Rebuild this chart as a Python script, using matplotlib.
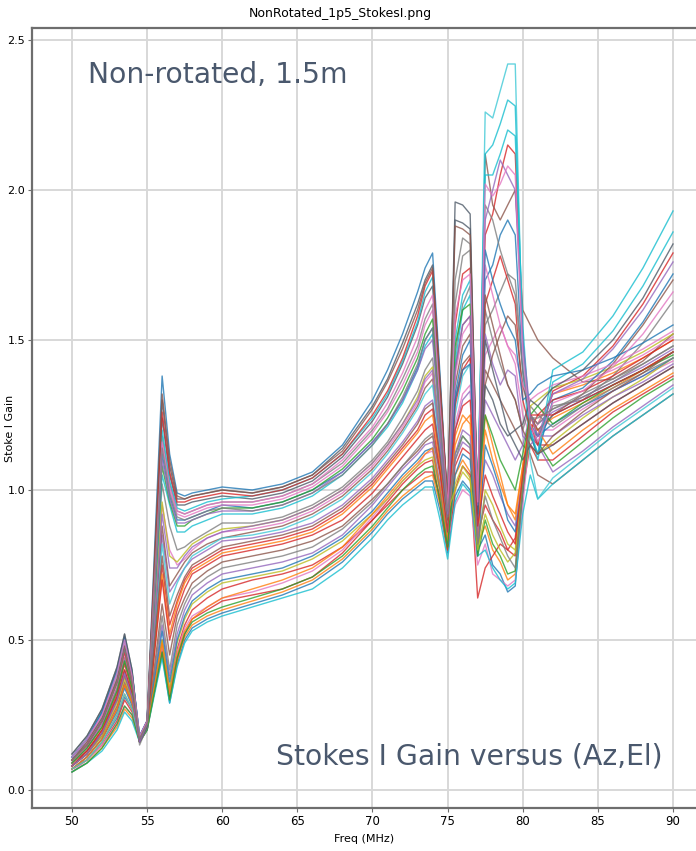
import matplotlib
matplotlib.use("Agg")
import matplotlib.pyplot as plt

# frequency grid (MHz)
freq = [50, 51, 52, 53, 53.5, 54, 54.5, 55,
        56, 56.5, 57, 57.5, 58, 59, 60,
        62, 64, 66, 68, 70, 71, 72, 73,
        73.5, 74, 74.5, 75,
        75.5, 76, 76.5, 77,
        77.5, 78, 78.5, 79, 79.5,
        80, 80.5, 81,
        82, 84, 86, 88, 90]

# Stokes I gain, one row per (Az,El) pointing -- low early response
low_group = [
    [0.07, 0.10, 0.16, 0.24, 0.31, 0.27, 0.17, 0.21, 0.45, 0.29, 0.42, 0.50, 0.54, 0.57, 0.59,
     0.62, 0.65, 0.69, 0.76, 0.86, 0.92, 0.97, 1.01, 1.03, 1.03, 0.93, 0.79, 0.98, 1.03, 1.00, 0.80,
     0.85, 0.75, 0.72, 0.66, 0.68, 0.98, 1.20, 1.18, 1.25, 1.30, 1.35, 1.40, 1.46],
    [0.06, 0.09, 0.14, 0.21, 0.27, 0.24, 0.17, 0.20, 0.46, 0.30, 0.43, 0.51, 0.55, 0.58, 0.60,
     0.63, 0.66, 0.70, 0.77, 0.87, 0.93, 0.98, 1.02, 1.04, 1.05, 0.95, 0.80, 1.05, 1.10, 1.06, 0.82,
     0.88, 0.80, 0.76, 0.70, 0.72, 1.02, 1.25, 1.22, 1.32, 1.35, 1.39, 1.44, 1.50],
    [0.07, 0.11, 0.17, 0.27, 0.35, 0.29, 0.16, 0.21, 0.47, 0.31, 0.44, 0.52, 0.57, 0.60, 0.63,
     0.65, 0.67, 0.71, 0.79, 0.90, 0.96, 1.02, 1.07, 1.09, 1.10, 0.96, 0.80, 1.00, 1.08, 1.05, 0.64,
     0.74, 0.78, 0.82, 0.80, 0.84, 1.05, 1.18, 1.15, 1.15, 1.22, 1.29, 1.35, 1.41],
    [0.07, 0.10, 0.15, 0.23, 0.30, 0.26, 0.16, 0.20, 0.50, 0.33, 0.47, 0.55, 0.60, 0.64, 0.67,
     0.70, 0.72, 0.75, 0.81, 0.90, 0.95, 1.00, 1.04, 1.06, 1.06, 0.98, 0.85, 1.08, 1.14, 1.12, 0.85,
     0.95, 0.90, 0.86, 0.80, 0.78, 1.00, 1.15, 1.10, 1.10, 1.18, 1.26, 1.32, 1.38],
    [0.08, 0.12, 0.19, 0.30, 0.39, 0.31, 0.16, 0.22, 0.55, 0.38, 0.52, 0.60, 0.65, 0.69, 0.72,
     0.74, 0.76, 0.79, 0.85, 0.95, 1.01, 1.07, 1.12, 1.15, 1.16, 1.02, 0.84, 1.20, 1.30, 1.33, 0.90,
     1.10, 1.05, 0.98, 0.92, 0.88, 1.05, 1.20, 1.15, 1.06, 1.13, 1.21, 1.28, 1.35],
    [0.08, 0.12, 0.18, 0.28, 0.36, 0.30, 0.17, 0.21, 0.62, 0.45, 0.58, 0.64, 0.69, 0.73, 0.76,
     0.78, 0.80, 0.83, 0.88, 0.97, 1.02, 1.08, 1.13, 1.16, 1.18, 1.05, 0.88, 1.35, 1.48, 1.52, 0.98,
     1.40, 1.35, 1.30, 1.25, 1.20, 1.15, 1.12, 1.05, 1.02, 1.10, 1.18, 1.25, 1.32],
    [0.06, 0.10, 0.15, 0.22, 0.28, 0.25, 0.17, 0.20, 0.48, 0.32, 0.46, 0.54, 0.58, 0.61, 0.64,
     0.66, 0.69, 0.73, 0.80, 0.91, 0.97, 1.03, 1.08, 1.12, 1.13, 1.00, 0.82, 0.95, 1.00, 0.98, 0.75,
     0.82, 0.72, 0.70, 0.68, 0.70, 0.95, 1.20, 1.20, 1.20, 1.27, 1.33, 1.38, 1.43],
    [0.09, 0.14, 0.21, 0.33, 0.43, 0.34, 0.17, 0.22, 0.58, 0.40, 0.55, 0.62, 0.67, 0.71, 0.74,
     0.76, 0.78, 0.81, 0.87, 0.96, 1.02, 1.08, 1.14, 1.17, 1.19, 1.06, 0.86, 1.45, 1.62, 1.68, 1.00,
     1.55, 1.60, 1.66, 1.72, 1.70, 1.40, 1.25, 1.18, 1.28, 1.30, 1.38, 1.49, 1.63],
    [0.08, 0.12, 0.18, 0.29, 0.37, 0.30, 0.16, 0.21, 0.50, 0.34, 0.49, 0.57, 0.62, 0.66, 0.69,
     0.71, 0.73, 0.77, 0.83, 0.92, 0.97, 1.03, 1.08, 1.10, 1.11, 0.99, 0.83, 1.02, 1.08, 1.04, 0.80,
     1.00, 0.95, 0.88, 0.82, 0.80, 1.02, 1.18, 1.12, 1.16, 1.24, 1.31, 1.37, 1.44],
    [0.06, 0.09, 0.13, 0.20, 0.26, 0.23, 0.16, 0.20, 0.44, 0.29, 0.41, 0.49, 0.53, 0.56, 0.58,
     0.61, 0.64, 0.67, 0.74, 0.84, 0.90, 0.95, 0.99, 1.01, 1.01, 0.90, 0.77, 0.96, 1.02, 0.99, 0.78,
     0.80, 0.74, 0.70, 0.67, 0.69, 0.92, 1.05, 0.97, 1.02, 1.10, 1.18, 1.25, 1.32],
    [0.07, 0.11, 0.17, 0.26, 0.34, 0.28, 0.16, 0.21, 0.53, 0.36, 0.50, 0.58, 0.63, 0.67, 0.70,
     0.72, 0.74, 0.78, 0.84, 0.93, 0.99, 1.05, 1.10, 1.13, 1.14, 1.00, 0.82, 1.05, 1.12, 1.10, 0.78,
     1.15, 1.08, 1.00, 0.90, 0.86, 1.02, 1.22, 1.18, 1.22, 1.28, 1.33, 1.38, 1.44],
    [0.07, 0.10, 0.16, 0.25, 0.32, 0.27, 0.17, 0.21, 0.49, 0.32, 0.45, 0.53, 0.57, 0.61, 0.64,
     0.67, 0.70, 0.74, 0.81, 0.92, 0.98, 1.04, 1.09, 1.12, 1.14, 1.01, 0.83, 1.18, 1.25, 1.22, 0.82,
     1.25, 1.15, 1.05, 0.95, 0.92, 1.08, 1.24, 1.20, 1.24, 1.29, 1.34, 1.40, 1.46],
    [0.06, 0.09, 0.14, 0.22, 0.28, 0.25, 0.16, 0.20, 0.46, 0.30, 0.44, 0.52, 0.56, 0.59, 0.61,
     0.64, 0.67, 0.71, 0.78, 0.88, 0.94, 1.00, 1.05, 1.07, 1.08, 0.96, 0.81, 1.12, 1.18, 1.15, 0.78,
     0.90, 0.82, 0.78, 0.72, 0.73, 1.00, 1.22, 1.16, 1.08, 1.16, 1.24, 1.31, 1.37],
]

# medium early response
mid_group = [
    [0.09, 0.13, 0.20, 0.32, 0.42, 0.33, 0.17, 0.22, 0.75, 0.55, 0.63, 0.70, 0.74, 0.77, 0.80,
     0.82, 0.84, 0.87, 0.93, 1.02, 1.08, 1.14, 1.20, 1.25, 1.27, 1.10, 0.90, 1.55, 1.72, 1.74, 0.95,
     1.85, 1.92, 2.05, 2.15, 2.12, 1.50, 1.22, 1.15, 1.33, 1.38, 1.48, 1.62, 1.79],
    [0.10, 0.15, 0.23, 0.36, 0.47, 0.36, 0.17, 0.23, 0.85, 0.66, 0.70, 0.74, 0.77, 0.80, 0.83,
     0.84, 0.86, 0.89, 0.95, 1.04, 1.10, 1.16, 1.23, 1.28, 1.30, 1.12, 0.89, 1.10, 1.16, 1.14, 0.88,
     1.30, 1.25, 1.20, 1.15, 1.10, 1.15, 1.25, 1.22, 1.26, 1.31, 1.36, 1.41, 1.47],
    [0.08, 0.13, 0.19, 0.31, 0.40, 0.32, 0.16, 0.22, 0.88, 0.68, 0.72, 0.76, 0.79, 0.82, 0.84,
     0.86, 0.88, 0.92, 0.98, 1.07, 1.13, 1.20, 1.28, 1.34, 1.37, 1.15, 0.88, 1.30, 1.42, 1.45, 0.92,
     2.12, 1.95, 1.90, 1.95, 2.00, 1.60, 1.55, 1.50, 1.44, 1.36, 1.37, 1.43, 1.52],
    [0.10, 0.15, 0.22, 0.35, 0.45, 0.35, 0.17, 0.22, 0.95, 0.80, 0.75, 0.77, 0.80, 0.84, 0.86,
     0.87, 0.89, 0.93, 0.99, 1.08, 1.14, 1.21, 1.29, 1.36, 1.39, 1.16, 0.90, 1.22, 1.32, 1.35, 0.92,
     1.45, 1.50, 1.55, 1.48, 1.42, 1.25, 1.18, 1.22, 1.32, 1.36, 1.40, 1.45, 1.51],
    [0.11, 0.17, 0.26, 0.40, 0.51, 0.39, 0.18, 0.23, 1.02, 0.88, 0.80, 0.81, 0.83, 0.86, 0.89,
     0.89, 0.91, 0.95, 1.01, 1.10, 1.16, 1.24, 1.33, 1.40, 1.44, 1.18, 0.92, 1.70, 1.84, 1.82, 0.90,
     1.60, 1.50, 1.42, 1.35, 1.30, 1.20, 1.28, 1.25, 1.21, 1.28, 1.34, 1.39, 1.44],
    [0.09, 0.14, 0.21, 0.34, 0.44, 0.34, 0.17, 0.22, 0.96, 0.78, 0.76, 0.79, 0.82, 0.85, 0.87,
     0.88, 0.90, 0.94, 1.00, 1.09, 1.15, 1.22, 1.31, 1.38, 1.41, 1.17, 0.93, 1.00, 1.06, 1.03, 0.80,
     0.92, 0.85, 0.80, 0.76, 0.79, 1.05, 1.28, 1.30, 1.34, 1.37, 1.41, 1.46, 1.52],
    [0.10, 0.16, 0.24, 0.37, 0.48, 0.37, 0.17, 0.23, 1.05, 0.95, 0.86, 0.86, 0.88, 0.90, 0.92,
     0.92, 0.94, 0.98, 1.05, 1.15, 1.21, 1.29, 1.40, 1.48, 1.52, 1.22, 0.95, 1.42, 1.60, 1.65, 0.98,
     2.05, 2.05, 2.12, 2.20, 2.18, 1.55, 1.20, 1.10, 1.36, 1.42, 1.53, 1.68, 1.86],
    [0.11, 0.17, 0.25, 0.39, 0.50, 0.38, 0.18, 0.23, 1.12, 0.98, 0.90, 0.90, 0.91, 0.93, 0.95,
     0.94, 0.96, 1.00, 1.06, 1.16, 1.22, 1.30, 1.41, 1.50, 1.54, 1.24, 0.93, 1.32, 1.45, 1.50, 0.95,
     1.70, 1.75, 1.85, 1.90, 1.85, 1.40, 1.18, 1.12, 1.30, 1.34, 1.43, 1.56, 1.72],
    [0.07, 0.11, 0.17, 0.27, 0.35, 0.29, 0.16, 0.21, 0.72, 0.52, 0.62, 0.69, 0.73, 0.76, 0.79,
     0.81, 0.83, 0.86, 0.92, 1.01, 1.07, 1.13, 1.19, 1.23, 1.25, 1.08, 0.87, 1.15, 1.22, 1.25, 0.86,
     1.20, 1.10, 1.02, 0.95, 0.90, 1.08, 1.22, 1.20, 1.12, 1.20, 1.27, 1.33, 1.39],
    [0.07, 0.10, 0.16, 0.25, 0.32, 0.27, 0.17, 0.21, 0.82, 0.62, 0.69, 0.74, 0.78, 0.81, 0.84,
     0.85, 0.87, 0.91, 0.97, 1.06, 1.12, 1.19, 1.27, 1.32, 1.35, 1.14, 0.86, 1.25, 1.38, 1.42, 0.88,
     2.26, 2.24, 2.33, 2.42, 2.42, 1.45, 1.10, 0.97, 1.04, 1.12, 1.20, 1.27, 1.34],
    [0.08, 0.13, 0.20, 0.31, 0.40, 0.32, 0.17, 0.22, 0.70, 0.50, 0.60, 0.67, 0.72, 0.75, 0.78,
     0.80, 0.82, 0.85, 0.90, 0.99, 1.05, 1.11, 1.17, 1.20, 1.22, 1.06, 0.86, 1.28, 1.40, 1.44, 0.93,
     1.62, 1.70, 1.78, 1.70, 1.62, 1.30, 1.20, 1.25, 1.30, 1.33, 1.38, 1.44, 1.50],
    [0.09, 0.14, 0.22, 0.34, 0.44, 0.35, 0.17, 0.22, 0.92, 0.74, 0.74, 0.78, 0.81, 0.84, 0.86,
     0.88, 0.90, 0.94, 1.00, 1.09, 1.15, 1.22, 1.30, 1.37, 1.40, 1.16, 0.91, 1.12, 1.20, 1.18, 0.84,
     1.52, 1.42, 1.35, 1.40, 1.38, 1.18, 1.15, 1.18, 1.18, 1.25, 1.31, 1.36, 1.42],
    [0.08, 0.12, 0.19, 0.30, 0.38, 0.31, 0.16, 0.22, 0.78, 0.58, 0.65, 0.71, 0.75, 0.78, 0.81,
     0.83, 0.85, 0.88, 0.94, 1.03, 1.09, 1.15, 1.22, 1.27, 1.29, 1.11, 0.90, 1.40, 1.55, 1.58, 0.97,
     1.35, 1.45, 1.52, 1.58, 1.55, 1.35, 1.25, 1.20, 1.25, 1.32, 1.42, 1.55, 1.70],
]

# high early response (strong 56 MHz spike)
high_group = [
    [0.11, 0.16, 0.25, 0.38, 0.49, 0.38, 0.18, 0.23, 1.15, 1.00, 0.92, 0.91, 0.92, 0.94, 0.95,
     0.95, 0.97, 1.01, 1.08, 1.19, 1.26, 1.35, 1.46, 1.55, 1.60, 1.26, 0.93, 1.38, 1.52, 1.56, 0.96,
     1.75, 1.65, 1.55, 1.48, 1.45, 1.35, 1.30, 1.32, 1.35, 1.38, 1.42, 1.47, 1.53],
    [0.12, 0.18, 0.27, 0.41, 0.52, 0.40, 0.15, 0.21, 1.18, 1.02, 0.93, 0.92, 0.93, 0.95, 0.96,
     0.96, 0.98, 1.02, 1.09, 1.20, 1.27, 1.37, 1.48, 1.57, 1.62, 1.27, 0.91, 1.62, 1.78, 1.80, 0.92,
     1.95, 1.90, 1.80, 1.72, 1.65, 1.40, 1.25, 1.22, 1.27, 1.32, 1.37, 1.42, 1.48],
    [0.10, 0.15, 0.23, 0.36, 0.47, 0.36, 0.17, 0.23, 1.24, 1.05, 0.95, 0.95, 0.96, 0.97, 0.98,
     0.97, 0.99, 1.03, 1.11, 1.23, 1.31, 1.42, 1.55, 1.64, 1.68, 1.30, 0.97, 1.90, 1.89, 1.87, 0.95,
     1.50, 1.40, 1.30, 1.20, 1.15, 1.10, 1.15, 1.12, 1.15, 1.22, 1.29, 1.35, 1.41],
    [0.11, 0.17, 0.26, 0.39, 0.50, 0.39, 0.18, 0.23, 1.20, 1.03, 0.94, 0.93, 0.94, 0.96, 0.97,
     0.98, 1.00, 1.04, 1.12, 1.24, 1.32, 1.43, 1.56, 1.66, 1.71, 1.32, 0.96, 1.50, 1.65, 1.70, 0.98,
     2.12, 2.15, 2.22, 2.30, 2.28, 1.50, 1.20, 1.12, 1.40, 1.46, 1.58, 1.74, 1.93],
    [0.11, 0.17, 0.26, 0.40, 0.51, 0.39, 0.18, 0.23, 1.38, 1.12, 0.99, 0.98, 0.99, 1.00, 1.01,
     1.00, 1.02, 1.06, 1.15, 1.30, 1.40, 1.52, 1.66, 1.74, 1.79, 1.38, 0.95, 1.30, 1.40, 1.42, 0.90,
     1.80, 1.70, 1.62, 1.55, 1.50, 1.30, 1.32, 1.35, 1.38, 1.40, 1.44, 1.49, 1.55],
    [0.12, 0.18, 0.27, 0.41, 0.52, 0.40, 0.16, 0.21, 1.30, 1.08, 0.97, 0.97, 0.98, 0.99, 1.00,
     0.99, 1.01, 1.05, 1.14, 1.28, 1.37, 1.49, 1.62, 1.70, 1.75, 1.36, 0.94, 1.96, 1.95, 1.92, 0.92,
     1.35, 1.30, 1.22, 1.18, 1.20, 1.22, 1.30, 1.28, 1.34, 1.40, 1.50, 1.64, 1.82],
    [0.09, 0.14, 0.21, 0.33, 0.43, 0.34, 0.17, 0.22, 1.08, 0.96, 0.88, 0.88, 0.90, 0.92, 0.94,
     0.94, 0.96, 1.00, 1.07, 1.17, 1.24, 1.33, 1.44, 1.52, 1.57, 1.25, 0.94, 1.48, 1.60, 1.62, 1.00,
     1.25, 1.18, 1.10, 1.05, 1.00, 1.12, 1.25, 1.28, 1.22, 1.29, 1.35, 1.40, 1.45],
    [0.10, 0.15, 0.23, 0.36, 0.46, 0.36, 0.17, 0.22, 1.26, 1.06, 0.96, 0.96, 0.97, 0.98, 0.99,
     0.98, 1.00, 1.04, 1.12, 1.25, 1.33, 1.44, 1.58, 1.68, 1.73, 1.34, 0.96, 1.20, 1.28, 1.30, 0.88,
     1.05, 0.98, 0.92, 0.86, 0.82, 1.05, 1.25, 1.25, 1.25, 1.30, 1.35, 1.40, 1.46],
    [0.08, 0.12, 0.19, 0.30, 0.39, 0.31, 0.16, 0.22, 1.10, 0.97, 0.89, 0.89, 0.90, 0.92, 0.93,
     0.93, 0.95, 0.99, 1.06, 1.16, 1.22, 1.30, 1.40, 1.47, 1.50, 1.21, 0.92, 1.40, 1.55, 1.58, 0.95,
     1.90, 2.00, 2.10, 2.05, 2.00, 1.50, 1.25, 1.18, 1.32, 1.37, 1.47, 1.60, 1.76],
    [0.10, 0.16, 0.24, 0.37, 0.48, 0.37, 0.17, 0.23, 1.32, 1.10, 0.98, 0.97, 0.98, 0.99, 1.00,
     0.99, 1.01, 1.05, 1.13, 1.27, 1.36, 1.47, 1.60, 1.69, 1.74, 1.35, 0.95, 1.88, 1.87, 1.85, 0.96,
     1.65, 1.55, 1.45, 1.35, 1.30, 1.20, 1.15, 1.12, 1.18, 1.26, 1.33, 1.39, 1.46],
    [0.11, 0.17, 0.25, 0.39, 0.50, 0.38, 0.18, 0.23, 1.16, 1.01, 0.93, 0.92, 0.93, 0.95, 0.96,
     0.96, 0.98, 1.02, 1.10, 1.21, 1.29, 1.39, 1.51, 1.60, 1.65, 1.28, 0.94, 1.58, 1.70, 1.72, 0.96,
     2.02, 1.98, 2.02, 2.08, 2.05, 1.45, 1.22, 1.16, 1.29, 1.33, 1.41, 1.52, 1.66],
    [0.10, 0.15, 0.23, 0.36, 0.47, 0.36, 0.17, 0.22, 1.14, 0.99, 0.91, 0.90, 0.91, 0.93, 0.94,
     0.93, 0.95, 0.99, 1.05, 1.15, 1.22, 1.31, 1.42, 1.50, 1.54, 1.23, 0.93, 1.10, 1.18, 1.15, 0.82,
     0.98, 0.90, 0.84, 0.78, 0.74, 1.00, 1.24, 1.24, 1.27, 1.31, 1.36, 1.42, 1.48],
]

x_ticks = [50, 55, 60, 65, 70, 75, 80, 85, 90]
y_ticks = [0.0, 0.5, 1.0, 1.5, 2.0, 2.5]

tab = plt.rcParams['axes.prop_cycle'].by_key()['color']
all_curves = low_group + mid_group + high_group
colors = [tab[i % 10] for i in range(len(all_curves))]
colors[2] = 'tab:red'
n_lm = len(low_group) + len(mid_group)
colors[n_lm + 2] = '#4e5a68'
colors[n_lm + 5] = '#4e5a68'
colors[len(low_group) + 9] = '#3fc9d6'

fig = plt.figure(figsize=(6.96, 8.51), dpi=100)
ax = fig.add_axes([32/696, 1 - 808/851, 1 - 32/696, (808 - 28)/851])

for curve, c in zip(all_curves, colors):
    ax.plot(freq, curve, color=c, lw=1.0, alpha=0.8)

ax.set_xlim(47.34, 91.53)
ax.set_ylim(-0.06, 2.54)
ax.set_xticks(x_ticks)
ax.set_xticklabels([str(t) for t in x_ticks])
ax.set_yticks(y_ticks)
ax.set_yticklabels(['%.1f' % t for t in y_ticks])
ax.grid(True, color='#d8d8d8', lw=1.4)
ax.set_axisbelow(True)
for side in ['left', 'bottom', 'top']:
    ax.spines[side].set_color('#6e6e6e')
    ax.spines[side].set_linewidth(1.6)
ax.spines['right'].set_visible(False)
ax.tick_params(axis='both', length=3, color='#6e6e6e', labelsize=8, pad=2)
for lab in ax.get_xticklabels():
    lab.set_fontsize(8.5)

ax.set_xlabel('Freq (MHz)', fontsize=8, labelpad=4)
fig.text(10/696, 1 - 428/851, 'Stoke I Gain', rotation=90, ha='center', va='center',
         fontsize=8)
fig.text(340/696, 1 - 13/851, 'NonRotated_1p5_StokesI.png', ha='center', va='center',
         fontsize=9)

ax.text(88/696, 1 - 75/851, 'Non-rotated, 1.5m', transform=fig.transFigure,
        fontsize=20.3, color='#4a586d', ha='left', va='center')
ax.text(663/696, 1 - 757/851, 'Stokes I Gain versus (Az,El)', transform=fig.transFigure,
        fontsize=20.3, color='#4a586d', ha='right', va='center')

fig.savefig('out.png', dpi=100)
